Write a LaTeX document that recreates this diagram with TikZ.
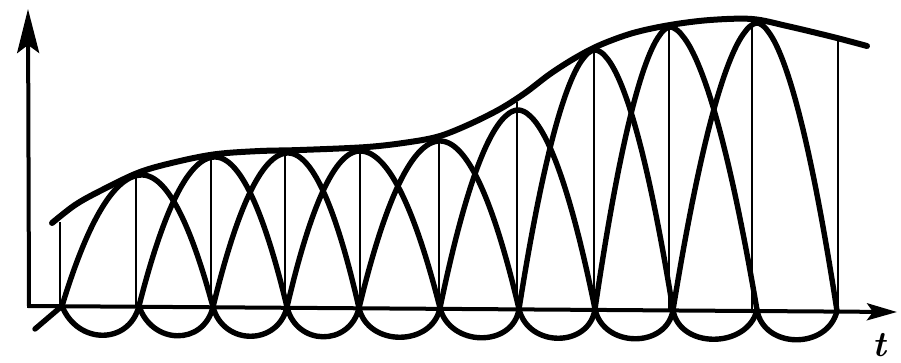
\documentclass[tikz,border=0pt]{standalone}
\usepackage{fontspec}
\usetikzlibrary{arrows.meta}
\tikzset{
  curve/.style={line width=5.4pt, line cap=round, line join=round},
  envl/.style={line width=6pt, line cap=round, line join=round},
  guide/.style={line width=2pt},
  axisline/.style={line width=4pt, line join=miter},
}
% arch: left foot, top x, right foot, top y, left foot y, right foot y, exponent
\newcommand{\archcurve}[7]{%
  \draw[curve] plot[domain=-1:1, samples=80, smooth]
    ({#2 + ((\x<0)*(#2-#1) + (\x>=0)*(#3-#2))*\x},
     {#4 + ((\x<0)*(#5-#4) + (\x>=0)*(#6-#4))*pow(abs(\x),#7)});
}
% loop below the axis: start x, start y, end x, end y, start slope, end slope
\newcommand{\ucurve}[6]{%
  \draw[curve] (#1,#2) .. controls ({#1+39/#5},{#2+39}) and ({#3-39/#6},{#4+39}) .. (#3,#4);
}
\begin{document}
\begin{tikzpicture}[x=1pt,y=-1pt]
\useasboundingbox (0,0) rectangle (901,362);

% axes
\coordinate (O) at (29,306);
\coordinate (Ytip) at (28,9);
\coordinate (Xtip) at (897,312);
\draw[axisline, {Stealth[length=44pt,width=22pt,inset=8pt]}-{Stealth[length=30pt,width=17pt,inset=6pt]}]
  (Ytip) -- (O) -- (Xtip);
\node[anchor=base] (tlabel) at (879,356) {\fontsize{36}{38}\selectfont\bfseries\itshape t};

% thin vertical lines
\foreach \xx/\yb/\yt in {60/306/222, 136/306/174, 211/307/155, 285/307/151, 360/308/148,
                         439/308/137, 517/309/102, 594/309/46, 669/310/25, 752/310/19, 838/311/38}
  \draw[guide] (\xx,\yb) -- (\xx,\yt);

% envelope
\draw[envl] plot[smooth, tension=0.55] coordinates {
  (52,223) (75,205) (100,191) (140,172) (180,161) (217,154) (260,151) (300,150)
  (367,147) (410,142) (440,136) (470,124) (500,109) (525,93) (550,74) (575,58)
  (600,45) (633,33) (670,25) (710,20) (752,19) (787,26) (833,37) (867,46)};

% arches
\archcurve{62}{142}{213}{175}{306}{307}{2}
\archcurve{139}{215}{287}{157}{306}{307}{2}
\archcurve{213}{288}{359}{153}{307}{308}{2}
\archcurve{287}{360}{440}{151}{307}{308}{2}
\archcurve{359}{440}{519}{141}{308}{309}{2}
\archcurve{440}{518}{595}{110}{308}{309}{1.9}
\archcurve{519}{595}{673}{50}{309}{310}{1.85}
\archcurve{595}{670}{757}{27}{309}{310}{1.8}
\archcurve{673}{757}{837}{23}{310}{311}{1.8}

% loops below the axis
\draw[curve] (35,329) -- (62,306);
\ucurve{62}{306}{139}{306}{2.5}{3.89}
\ucurve{139}{306}{213}{307}{3}{4.08}
\ucurve{213}{307}{287}{307}{3.69}{4.25}
\ucurve{287}{307}{359}{308}{4.14}{4.07}
\ucurve{359}{308}{440}{308}{4.34}{4.77}
\ucurve{440}{308}{519}{309}{3.9}{6.28}
\ucurve{519}{309}{595}{309}{4.2}{6.77}
\ucurve{595}{309}{673}{310}{4.86}{6.15}
\ucurve{673}{310}{757}{310}{6.14}{4}
\ucurve{757}{310}{837}{311}{5.86}{4}
\end{tikzpicture}
\end{document}
